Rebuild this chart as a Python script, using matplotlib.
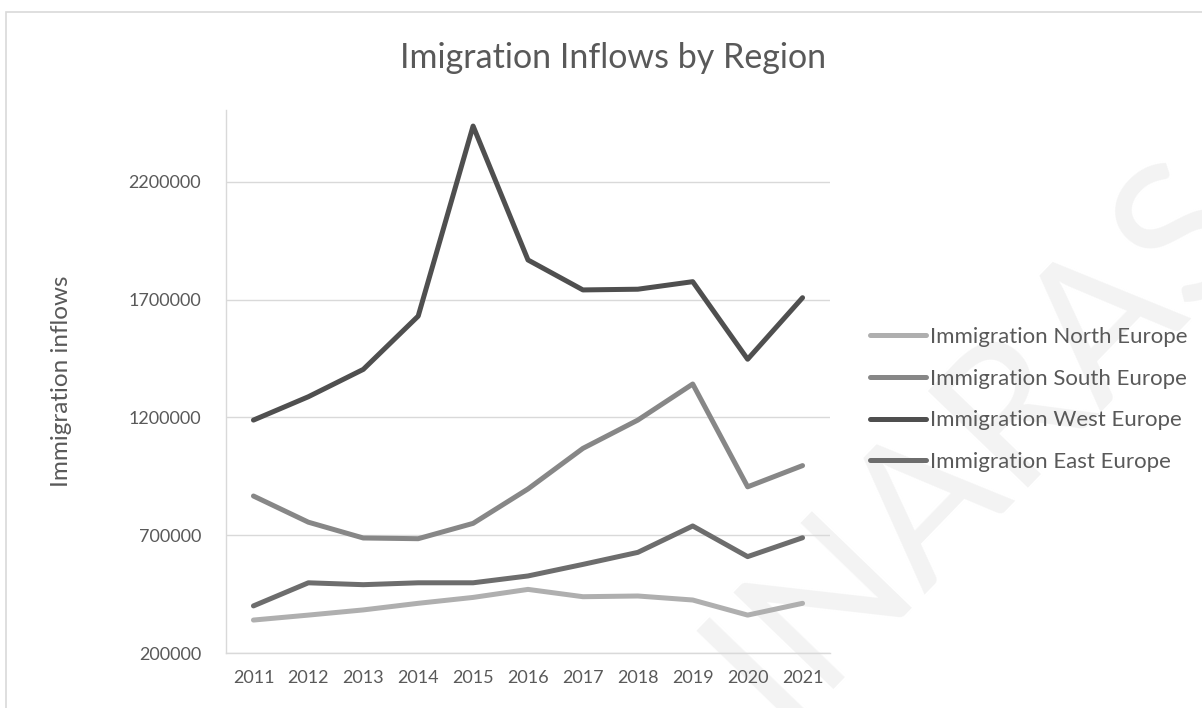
import matplotlib.pyplot as plt
from matplotlib.patches import Rectangle

# Data
years = ["2011", "2012", "2013", "2014", "2015", "2016", "2017", "2018", "2019", "2020", "2021"]
north = [341000, 362000, 384000, 412000, 437000, 471000, 440000, 443000, 426000, 362000, 412000]
south = [867000, 756000, 689000, 686000, 751000, 897000, 1069000, 1189000, 1342000, 906000, 996000]
west = [1189000, 1288000, 1404000, 1630000, 2436000, 1868000, 1741000, 1744000, 1776000, 1447000, 1708000]
east = [401000, 499000, 491000, 499000, 499000, 528000, 577000, 628000, 740000, 610000, 690000]
yticks = [200000, 700000, 1200000, 1700000, 2200000]

series = [
    ("Immigration North Europe", north, "#afafaf"),
    ("Immigration South Europe", south, "#878787"),
    ("Immigration West Europe", west, "#4f4f4f"),
    ("Immigration East Europe", east, "#6d6d6d"),
]

plt.rcParams['font.family'] = ['Lato', 'DejaVu Sans']
text_color = "#595959"
grid_color = "#d9d9d9"

W, H = 1202, 708
fig = plt.figure(figsize=(W / 100, H / 100), dpi=100)

# faint watermark behind everything
fig.text(980 / W, 1 - 440 / H, "INARAS", fontsize=140, color="#f3f3f3",
         rotation=46, ha="center", va="center",
         rotation_mode="anchor", zorder=-2)

# chart frame (runs off the right and bottom edges)
fig.patches.append(Rectangle((6 / W, -0.1), 1.2, 1 - 12 / H + 0.1, transform=fig.transFigure,
                             fill=False, edgecolor=grid_color, linewidth=1.2, zorder=-1))

ax = fig.add_axes([226 / W, 1 - 653.3 / H, (830 - 226) / W, (653.3 - 110) / H])
ax.set_facecolor("none")

x = range(len(years))
for name, vals, col in series:
    ax.plot(x, vals, color=col, linewidth=3.6, solid_capstyle="round",
            solid_joinstyle="round", label=name, zorder=3)

ax.set_xlim(-0.5, len(years) - 0.5)
ax.set_ylim(200000, 2504000)
ax.set_yticks(yticks)
ax.set_yticklabels([str(v) for v in yticks])
ax.set_xticks(list(x))
ax.set_xticklabels(years)
ax.yaxis.grid(True, color=grid_color, linewidth=1.0)
ax.set_axisbelow(True)
ax.tick_params(length=0, labelsize=13, labelcolor=text_color)
ax.tick_params(axis="y", pad=18)
ax.tick_params(axis="x", pad=12)
for s in ["top", "right"]:
    ax.spines[s].set_visible(False)
for s in ["left", "bottom"]:
    ax.spines[s].set_color(grid_color)
    ax.spines[s].set_linewidth(1.0)

ax.set_ylabel("Immigration inflows", fontsize=17.5, color=text_color)
ax.yaxis.set_label_coords(-0.255, 0.5)

fig.text(613 / W, 1 - 58 / H, "Imigration Inflows by Region", fontsize=24.5,
         color=text_color, ha="center", va="center")

ax.legend(loc="center left", bbox_to_anchor=(870 / W, 1 - 399.5 / H),
          bbox_transform=fig.transFigure, frameon=False, fontsize=16,
          labelcolor=text_color, handlelength=2.5, handletextpad=0.2,
          labelspacing=0.98, borderpad=0, borderaxespad=0)

fig.savefig("out.png", dpi=100)
